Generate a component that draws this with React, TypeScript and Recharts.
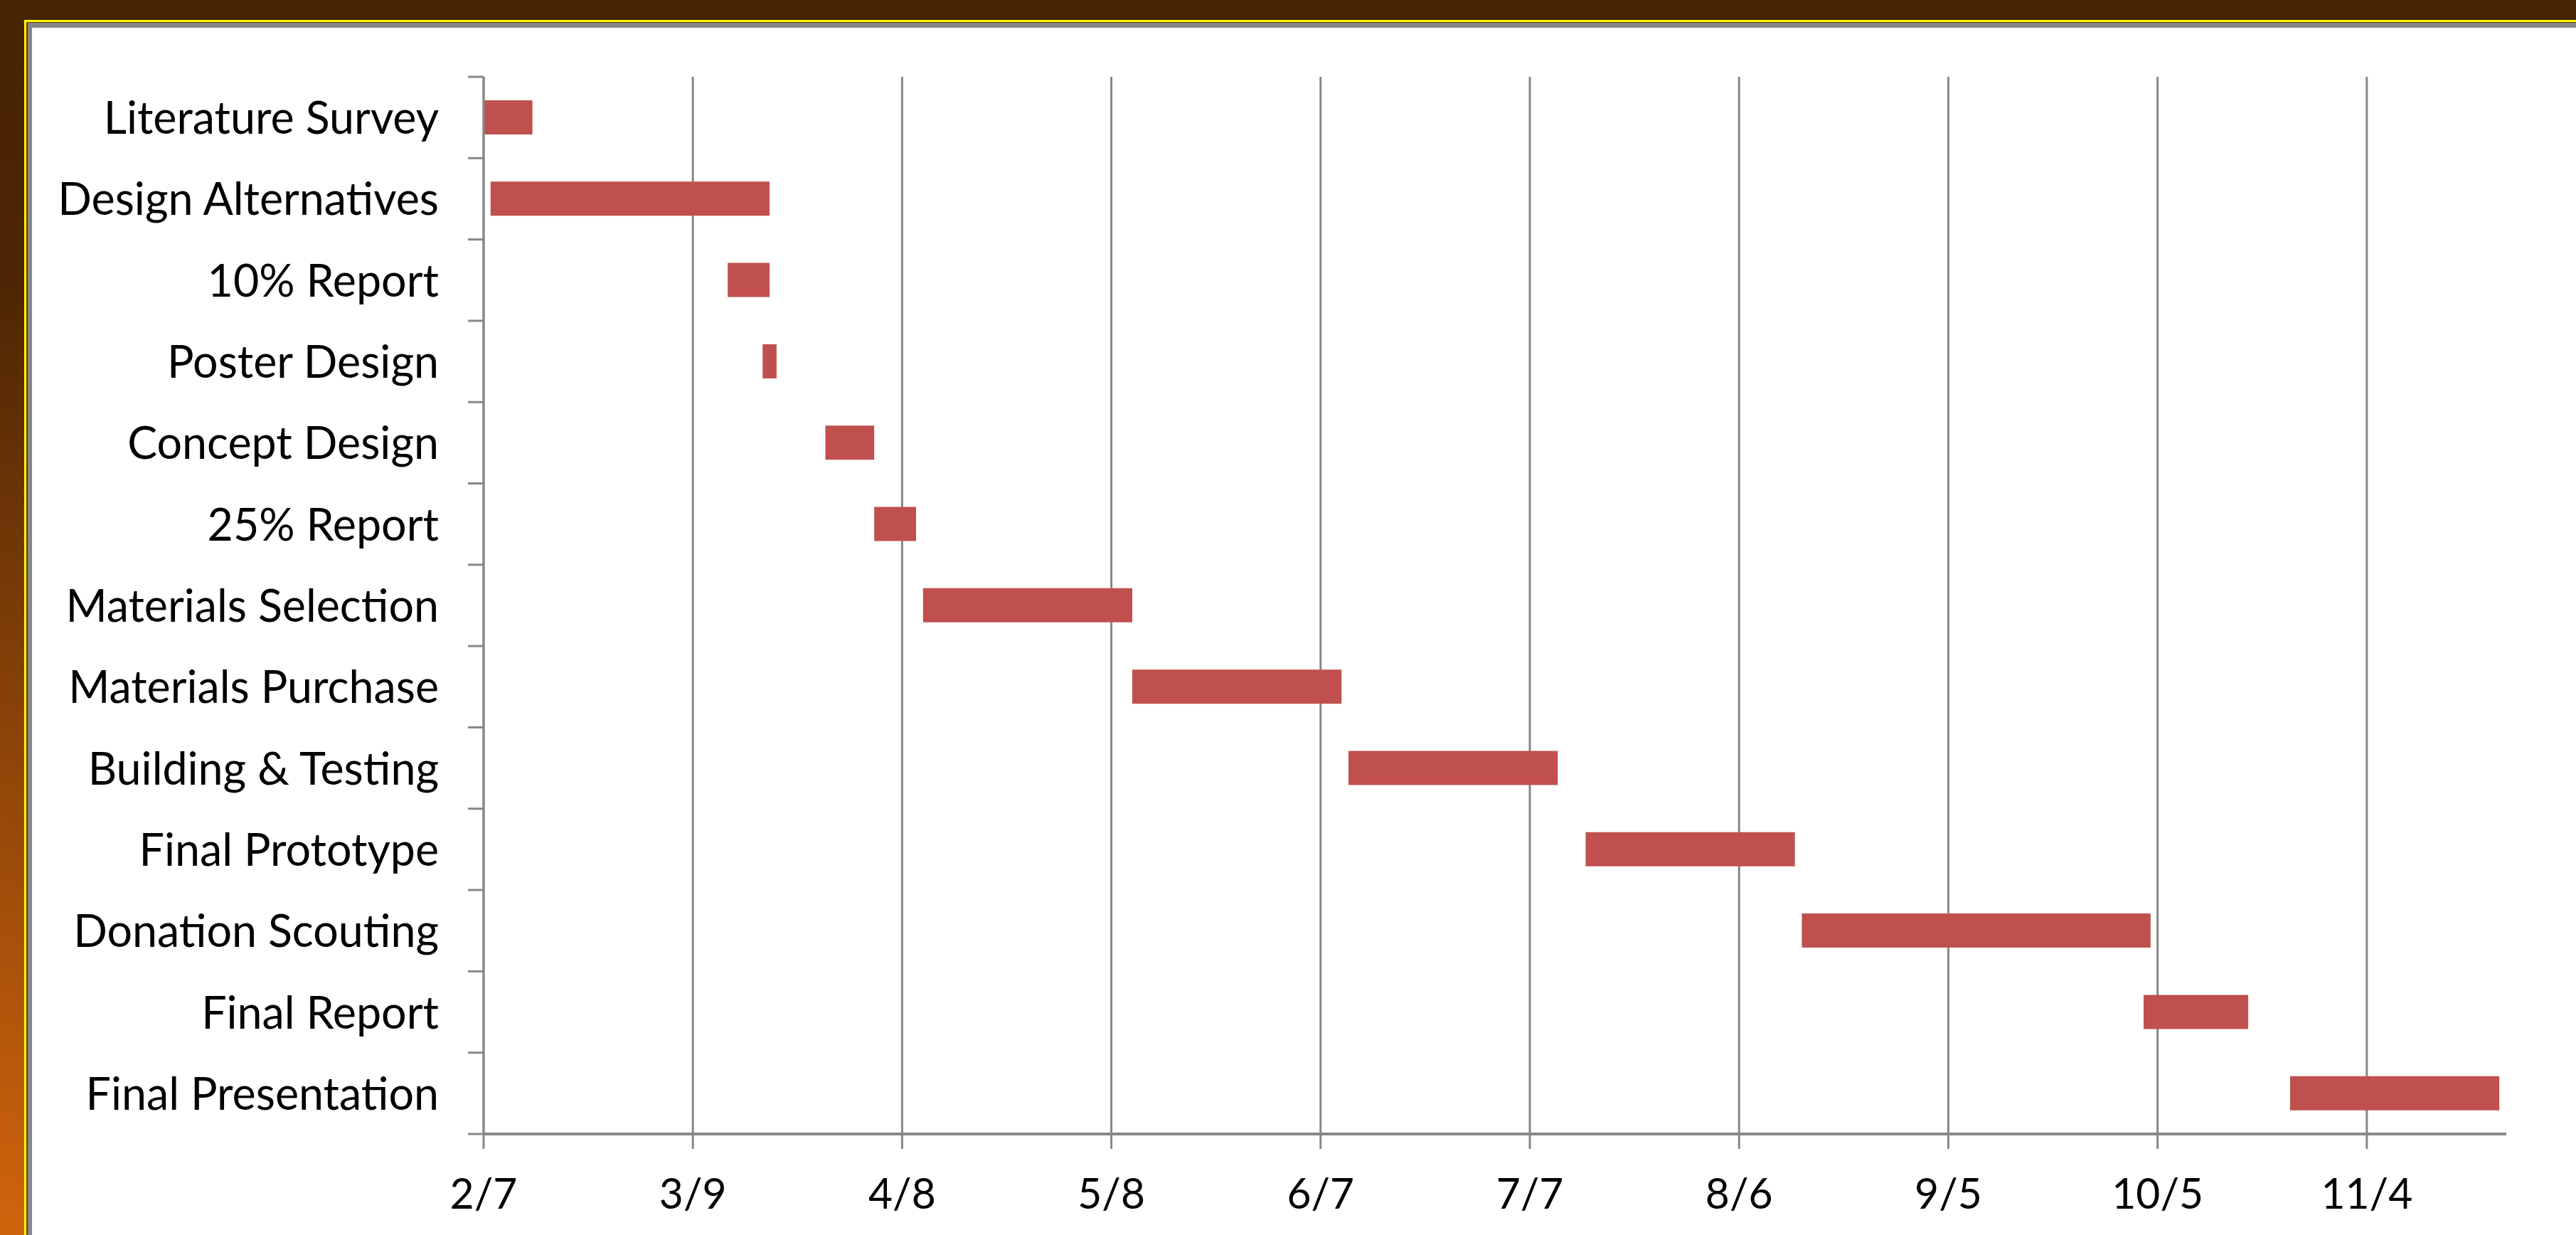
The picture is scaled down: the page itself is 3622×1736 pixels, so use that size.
import React from "react";
import { BarChart, Bar, XAxis, YAxis, CartesianGrid } from "recharts";

// project schedule, days counted from 2/7
const tasks = [
  "Literature Survey",
  "Design Alternatives",
  "10% Report",
  "Poster Design",
  "Concept Design",
  "25% Report",
  "Materials Selection",
  "Materials Purchase",
  "Building & Testing",
  "Final Prototype",
  "Donation Scouting",
  "Final Report",
  "Final Presentation",
];
const startDay = [0, 1, 35, 40, 49, 56, 63, 93, 124, 158, 189, 238, 259];
const durationDays = [7, 40, 6, 2, 7, 6, 30, 30, 30, 30, 50, 15, 30];

const tickDays = [0, 30, 60, 90, 120, 150, 180, 210, 240, 270];
const tickLabels = ["2/7", "3/9", "4/8", "5/8", "6/7", "7/7", "8/6", "9/5", "10/5", "11/4"];
const axisEndDay = 290;

const data = tasks.map((task, i) => ({
  task,
  start: startDay[i],
  duration: durationDays[i],
}));

const FONT = "Lato, 'Open Sans', sans-serif";
const GRAY = "#878787";
const BAR_RED = "#c0504d";
const TEXT_SCALE = 0.98;

function TaskTick(props: any) {
  const { x, y, payload, index, visibleTicksCount } = props;
  const half = payload && payload.offset ? payload.offset : 57;
  const last = index === visibleTicksCount - 1;
  return (
    <g>
      <line x1={x - 22} x2={x} y1={y - half} y2={y - half} stroke={GRAY} strokeWidth={3} />
      {last && <line x1={x - 22} x2={x} y1={y + half} y2={y + half} stroke={GRAY} strokeWidth={3} />}
      <text
        transform={`translate(${x - 63},${y + 23}) scale(${TEXT_SCALE},1)`}
        textAnchor="end"
        fontFamily={FONT}
        fontSize={64}
        fill="#000"
      >
        {payload.value}
      </text>
    </g>
  );
}

function DateTick(props: any) {
  const { x, y, payload } = props;
  const label = tickLabels[tickDays.indexOf(payload.value)];
  return (
    <text
      transform={`translate(${x},${y + 84}) scale(${TEXT_SCALE},1)`}
      textAnchor="middle"
      fontFamily={FONT}
      fontSize={60}
      fill="#000"
    >
      {label}
    </text>
  );
}

export default function App() {
  return (
    <div
      style={{
        position: "absolute",
        left: 0,
        top: 0,
        width: 3622,
        height: 1736,
        overflow: "hidden",
        background: "linear-gradient(180deg, #472303 0%, #4c2504 22%, #d0640c 100%)",
      }}
    >
      <div style={{ position: "absolute", left: 34, top: 28, right: 0, bottom: 0, background: "#ffff00" }} />
      <div style={{ position: "absolute", left: 37, top: 31, right: 0, bottom: 0, background: "#6b3608" }} />
      <div style={{ position: "absolute", left: 39, top: 32, right: 0, bottom: 0, background: GRAY }} />
      <div style={{ position: "absolute", left: 45, top: 39, right: 0, bottom: 0, background: "#ffffff" }} />
      <div style={{ position: "absolute", left: 0, top: 0 }}>
        <BarChart
          width={3622}
          height={1736}
          data={data}
          layout="vertical"
          margin={{ top: 108, right: 98, bottom: 0, left: 0 }}
          barSize={48}
        >
          <CartesianGrid horizontal={false} vertical={true} syncWithTicks stroke={GRAY} strokeWidth={3} />
          <XAxis
            type="number"
            domain={[0, axisEndDay]}
            ticks={tickDays}
            allowDataOverflow
            height={142}
            axisLine={{ stroke: GRAY, strokeWidth: 4 }}
            tickLine={{ stroke: GRAY, strokeWidth: 3 }}
            tickSize={21}
            tickMargin={0}
            tick={DateTick}
          />
          <YAxis
            type="category"
            dataKey="task"
            width={680}
            interval={0}
            axisLine={{ stroke: GRAY, strokeWidth: 3 }}
            tickLine={false}
            tickSize={0}
            tickMargin={0}
            tick={TaskTick}
          />
          <Bar dataKey="start" stackId="t" fill="transparent" isAnimationActive={false} />
          <Bar dataKey="duration" stackId="t" fill={BAR_RED} isAnimationActive={false} />
        </BarChart>
      </div>
    </div>
  );
}
